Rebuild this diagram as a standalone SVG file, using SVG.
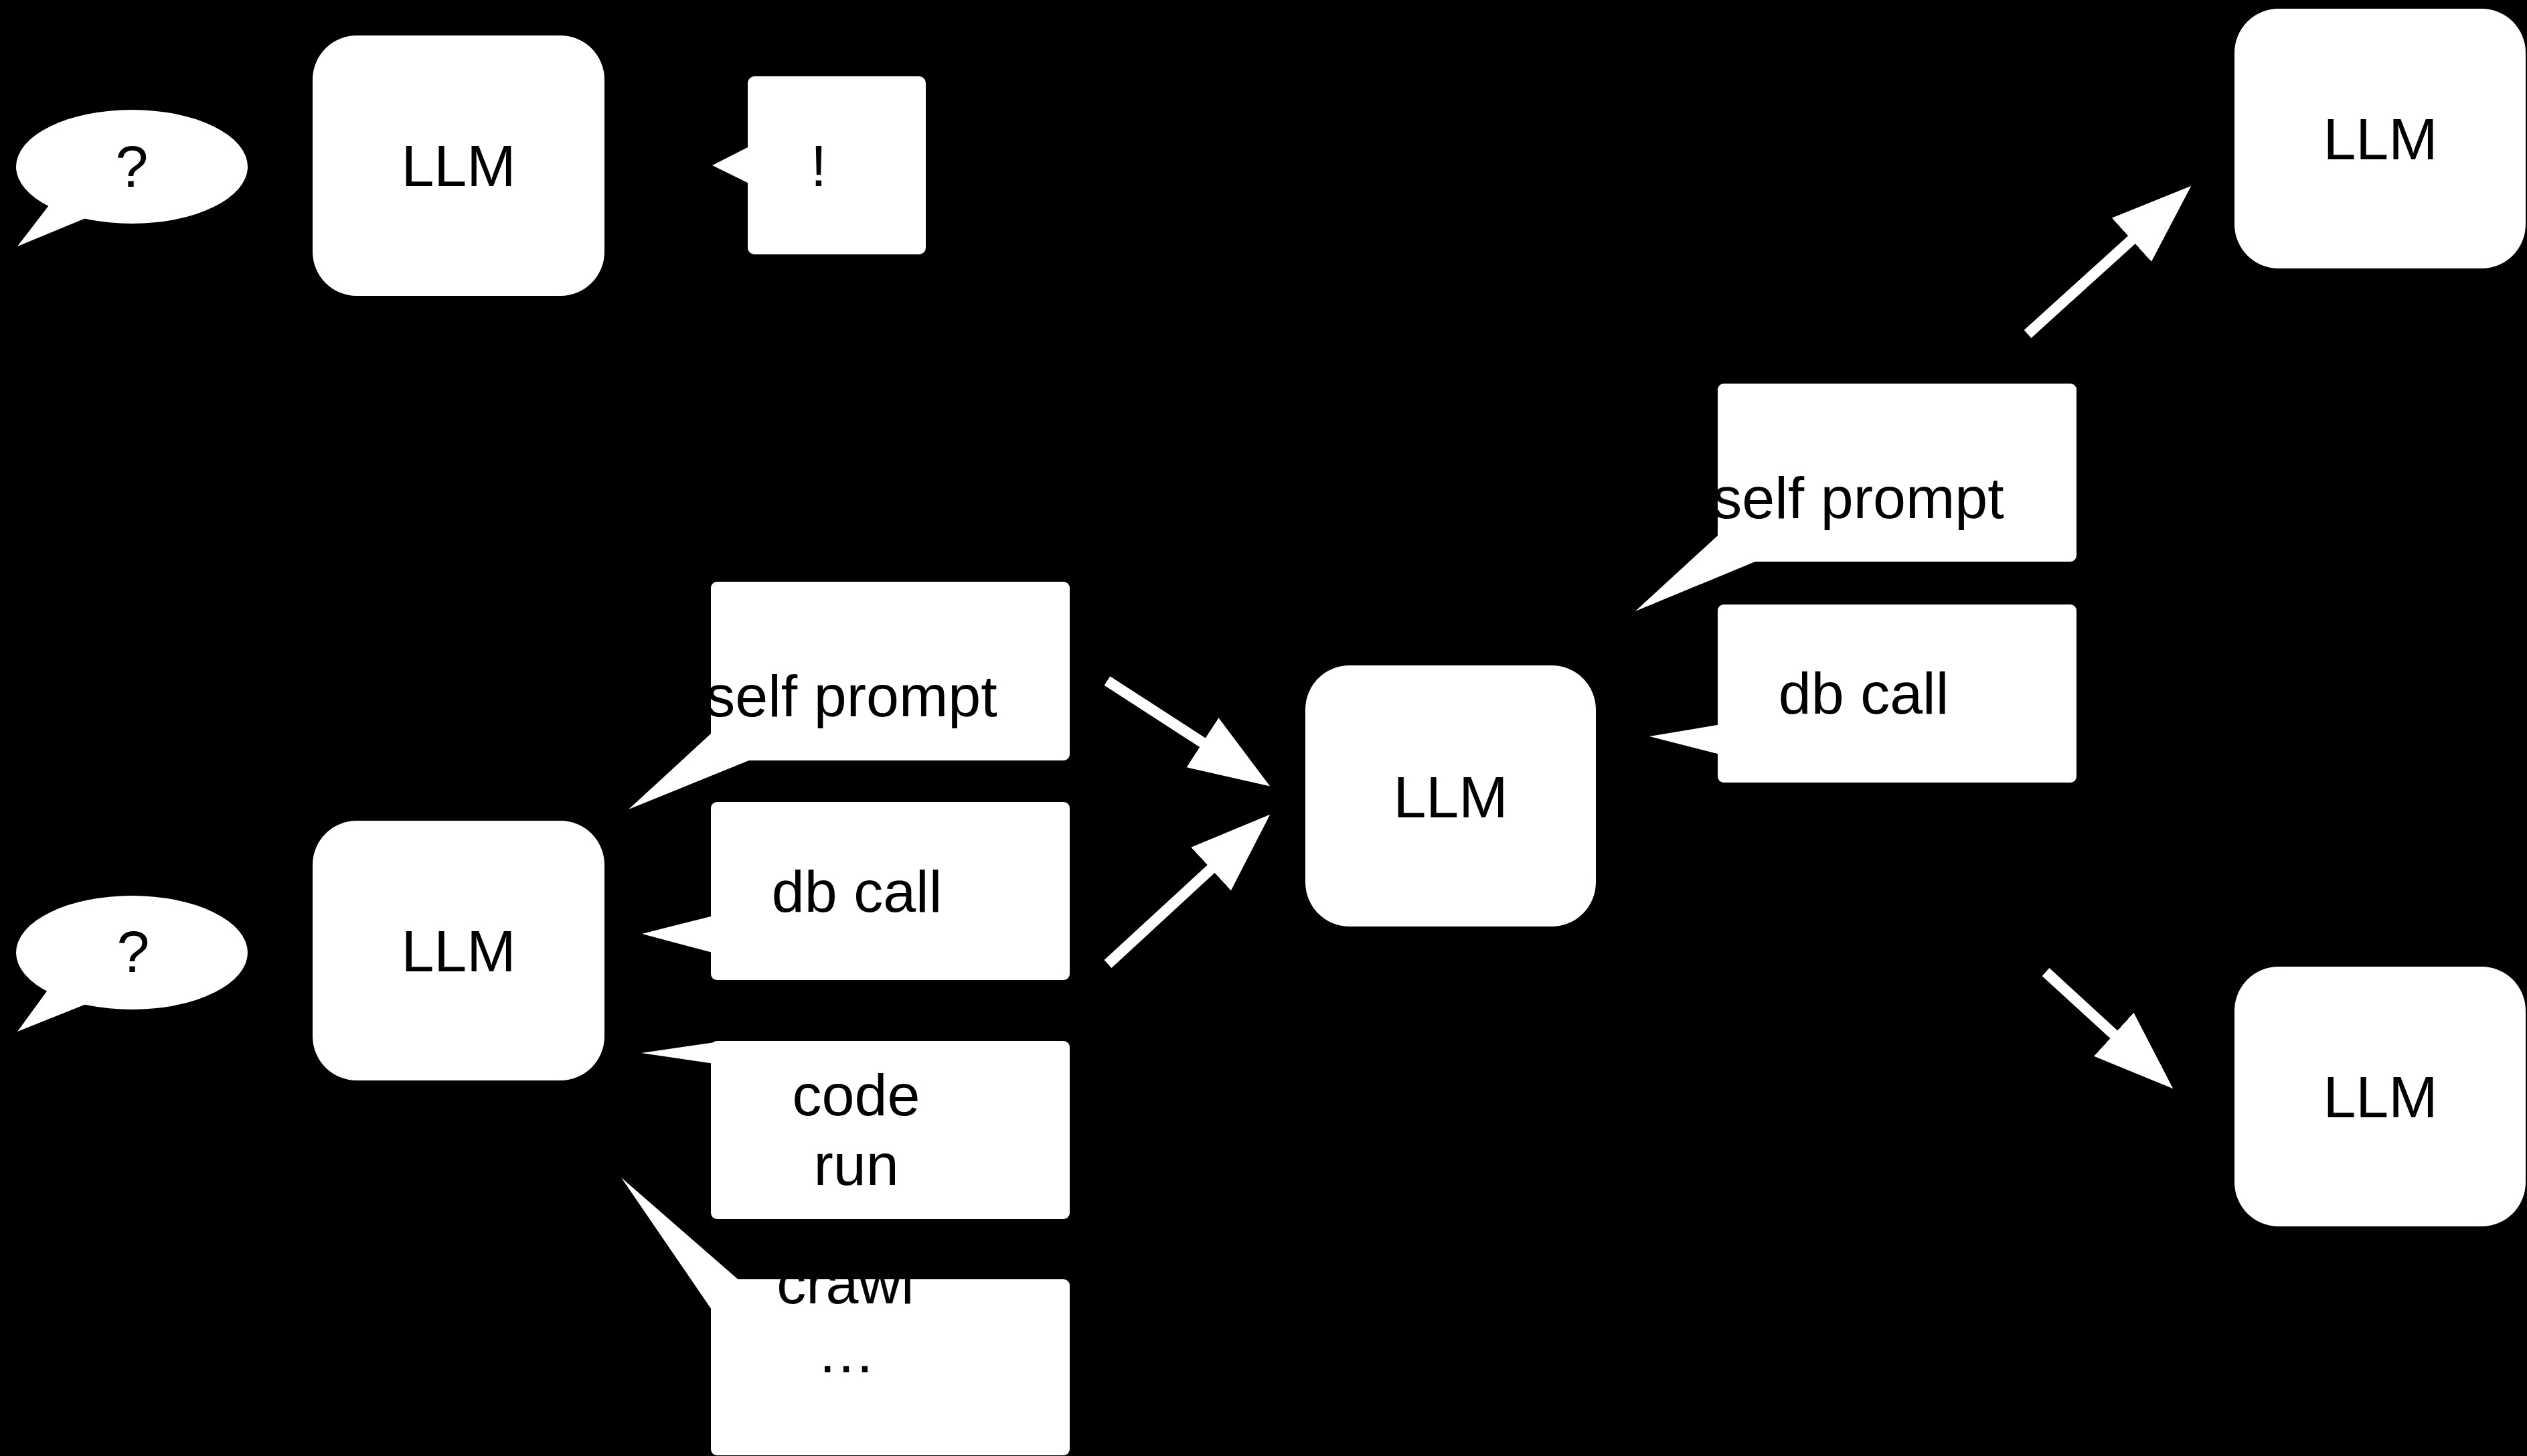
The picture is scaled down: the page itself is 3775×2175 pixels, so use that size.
<svg xmlns="http://www.w3.org/2000/svg" width="3775" height="2175" viewBox="0 0 3775 2175">
<style>
.bg{fill:#000}
.shape{fill:#fff;stroke:none}
.lbl{fill:#000;font-family:"Liberation Sans",Arial,Helvetica,sans-serif;font-size:88px;text-anchor:middle}
.arrow{stroke:#fff;stroke-width:16;fill:none;stroke-linecap:butt}
</style>
<defs>
<marker id="head" markerUnits="userSpaceOnUse" markerWidth="120" markerHeight="88" viewBox="0 0 120 88" refX="1" refY="44" orient="auto">
<path d="M0,0 L120,44 L0,88 z" fill="#fff"/>
</marker>
</defs>
<rect class="bg" x="0" y="0" width="3775" height="2175"/>

<g id="q1">
<ellipse class="shape" cx="197" cy="249" rx="173" ry="85"/>
<polygon class="shape" points="26,368 79,299 135,323"/>
<text class="lbl" x="197" y="279">?</text>
</g>
<g id="llm1">
<rect class="shape" x="467" y="53" width="436" height="389" rx="66" ry="66"/>
<text class="lbl" x="685" y="278">LLM</text>
</g>
<g id="answer">
<rect class="shape" x="1117" y="114" width="266" height="266" rx="10" ry="10"/>
<polygon class="shape" points="1064,247 1125,216 1125,277"/>
<text class="lbl" x="1223" y="278">!</text>
</g>

<g id="q2">
<ellipse class="shape" cx="197" cy="1423" rx="173" ry="85"/>
<polygon class="shape" points="26,1541 77,1471 136,1497"/>
<text class="lbl" x="199" y="1452">?</text>
</g>
<g id="llm2">
<rect class="shape" x="467" y="1226" width="436" height="388" rx="66" ry="66"/>
<text class="lbl" x="685" y="1451">LLM</text>
</g>
<g id="selfprompt1">
<rect class="shape" x="1062" y="869" width="536" height="267" rx="9" ry="9"/>
<polygon class="shape" points="939,1209 1075,1084 1136,1129"/>
<text class="lbl" x="1272" y="1070">self prompt</text>
</g>
<g id="dbcall1">
<rect class="shape" x="1062" y="1198" width="536" height="266" rx="9" ry="9"/>
<polygon class="shape" points="959,1395 1072,1366.5 1072,1425"/>
<text class="lbl" x="1280" y="1362">db call</text>
</g>
<g id="coderun">
<rect class="shape" x="1062" y="1555" width="536" height="266" rx="9" ry="9"/>
<polygon class="shape" points="958,1573 1068,1557 1074,1565 1074,1590"/>
<text class="lbl" x="1279" y="1666">code</text>
<text class="lbl" x="1279" y="1770">run</text>
</g>
<g id="crawl">
<rect class="shape" x="1062" y="1911" width="536" height="263" rx="9" ry="9"/>
<polygon class="shape" points="928,1759 1111,1918.6 1069,1965"/>
<text class="lbl" x="1263" y="1947">crawl</text>
<text class="lbl" x="1264" y="2050">…</text>
</g>

<g id="llm3">
<rect class="shape" x="1950" y="994" width="434" height="390" rx="66" ry="66"/>
<text class="lbl" x="2167" y="1221">LLM</text>
</g>
<g id="selfprompt2">
<rect class="shape" x="2566" y="573" width="536" height="266" rx="9" ry="9"/>
<polygon class="shape" points="2443,913 2578,789 2640,831.6"/>
<text class="lbl" x="2776" y="774">self prompt</text>
</g>
<g id="dbcall2">
<rect class="shape" x="2566" y="903" width="536" height="266" rx="9" ry="9"/>
<polygon class="shape" points="2464,1100 2576,1081.3 2576,1128.6"/>
<text class="lbl" x="2784" y="1066">db call</text>
</g>

<g id="llm4">
<rect class="shape" x="3338" y="13" width="435" height="388" rx="66" ry="66"/>
<text class="lbl" x="3556" y="238">LLM</text>
</g>
<g id="llm5">
<rect class="shape" x="3338" y="1444" width="435" height="388" rx="66" ry="66"/>
<text class="lbl" x="3556" y="1669">LLM</text>
</g>

<g id="connectors">
<line class="arrow" x1="1654" y1="1017" x2="1797.3" y2="1109.8" marker-end="url(#head)"/>
<line class="arrow" x1="1655" y1="1440" x2="1809.8" y2="1297.3" marker-end="url(#head)"/>
<line class="arrow" x1="3029" y1="499" x2="3185.1" y2="357.6" marker-end="url(#head)"/>
<line class="arrow" x1="3056" y1="1452" x2="3158.5" y2="1545.9" marker-end="url(#head)"/>
</g>
</svg>
